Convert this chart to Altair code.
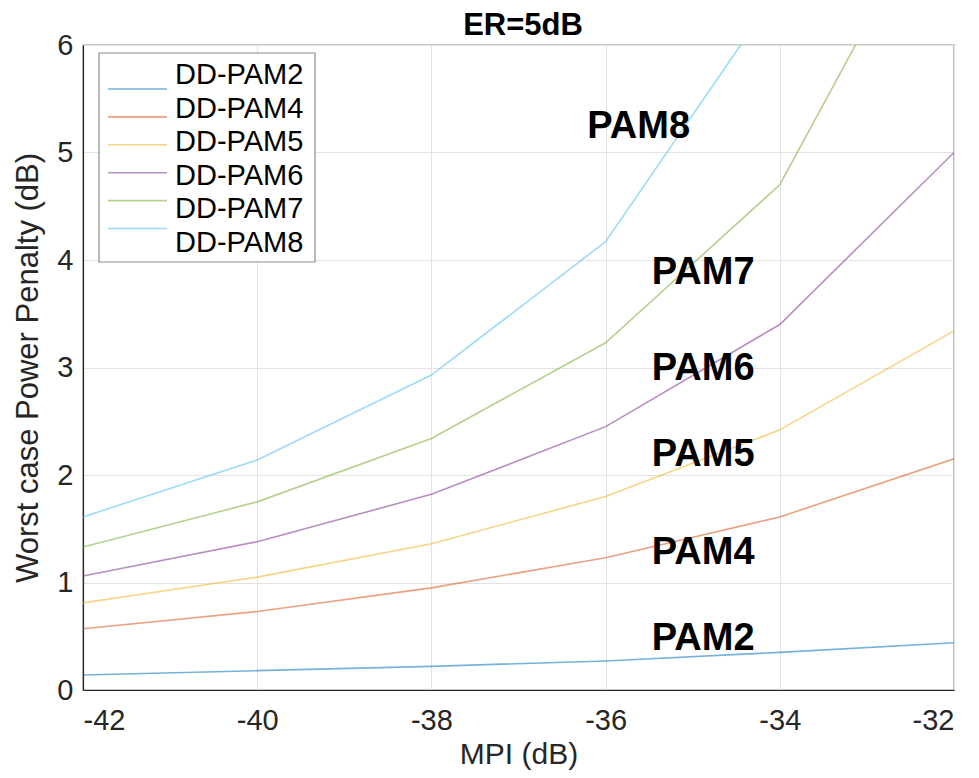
import altair as alt
import pandas as pd

mpi = [-42, -40, -38, -36, -34, -32]
series_names = ["DD-PAM2", "DD-PAM4", "DD-PAM5", "DD-PAM6", "DD-PAM7", "DD-PAM8"]
pam2 = [0.14, 0.18, 0.22, 0.27, 0.35, 0.44]
pam4 = [0.57, 0.73, 0.95, 1.23, 1.61, 2.15]
pam5 = [0.81, 1.05, 1.36, 1.80, 2.42, 3.34]
pam6 = [1.06, 1.38, 1.82, 2.45, 3.40, 5.00]
pam7 = [1.33, 1.75, 2.34, 3.23, 4.70, 7.69]
pam8 = [1.61, 2.14, 2.93, 4.17, 6.53, None]
colors = ["#0072BD", "#D95319", "#EDB120", "#7E2F8E", "#77AC30", "#4DBEEE"]

label_text = ["PAM8", "PAM7", "PAM6", "PAM5", "PAM4", "PAM2"]
label_x = [-36.21, -35.47, -35.47, -35.47, -35.47, -35.47]
label_y = [5.24, 3.88, 2.99, 2.19, 1.27, 0.47]

rows = []
for name, vals in zip(series_names, [pam2, pam4, pam5, pam6, pam7, pam8]):
    for x, v in zip(mpi, vals):
        if v is not None:
            rows.append({"MPI": x, "penalty": v, "series": name})
df = pd.DataFrame(rows)
lab = pd.DataFrame({"text": label_text, "x": label_x, "y": label_y})
leg = pd.DataFrame({"series": series_names})

FONT = "Liberation Sans"

xscale = alt.Scale(domain=[-42, -32], nice=False, zero=False)
yscale = alt.Scale(domain=[0, 6], nice=False)
cscale = alt.Scale(domain=series_names, range=colors)

lines = alt.Chart(df).mark_line(strokeWidth=1.6, opacity=0.55, clip=True).encode(
    x=alt.X("MPI:Q", scale=xscale, title="MPI (dB)",
            axis=alt.Axis(values=mpi, labelExpr="'' + datum.value", grid=True, tickSize=0,
                          labelPadding=16, titlePadding=4, titleFontSize=30)),
    y=alt.Y("penalty:Q", scale=yscale, title="Worst case Power Penalty (dB)",
            axis=alt.Axis(values=[0, 1, 2, 3, 4, 5, 6], labelExpr="'' + datum.value",
                          grid=True, tickSize=0, labelPadding=10, titlePadding=12)),
    color=alt.Color("series:N", scale=cscale, legend=None),
)

texts = alt.Chart(lab).mark_text(align="left", baseline="middle", fontSize=38,
                                 fontWeight="bold", font=FONT, color="black").encode(
    x=alt.X("x:Q", scale=xscale),
    y=alt.Y("y:Q", scale=yscale, axis=None),
    text="text:N",
)

legend_box = alt.Chart(pd.DataFrame({"box": [0]})).mark_rect(
    fill="white", stroke="#8c8c8c", strokeWidth=1.2
).encode(
    x=alt.value(16), x2=alt.value(232), y=alt.value(8), y2=alt.value(217)
)

leg_y = alt.Y("series:N", scale=alt.Scale(domain=series_names, range=[30, 197.5], padding=0),
              axis=None)

legend_lines = alt.Chart(leg).mark_rule(strokeWidth=1.6, opacity=0.55).encode(
    x=alt.value(25), x2=alt.value(84), y=leg_y,
    color=alt.Color("series:N", scale=cscale, legend=None),
)

legend_text = alt.Chart(leg).mark_text(align="left", baseline="middle", fontSize=29,
                                       font=FONT, color="black").encode(
    x=alt.value(92), y=leg_y, text="series:N",
)

title_text = alt.Chart(pd.DataFrame({"t": ["ER=5dB"]})).mark_text(
    align="center", baseline="alphabetic", fontSize=31, fontWeight="bold",
    font=FONT, color="black"
).encode(x=alt.value(440), y=alt.value(-10), text="t:N")

chart = alt.layer(lines, texts, legend_box, legend_lines, legend_text, title_text).resolve_scale(
    y="independent"
).properties(
    width=871, height=645,
    autosize=alt.AutoSizeParams(type="none"),
    padding={"left": 75, "top": 37, "right": 17, "bottom": 80},
).configure_view(
    stroke="#262626", strokeWidth=1.2
).configure_axis(
    labelFont=FONT, titleFont=FONT, labelFontSize=29, titleFontSize=31,
    labelColor="#262626", titleColor="#262626", titleFontWeight="normal",
    gridColor="#e3e3e3", domainColor="#262626", domainWidth=1.2,
)

chart.save("out.html", embed_options={"renderer": "svg", "actions": False})
